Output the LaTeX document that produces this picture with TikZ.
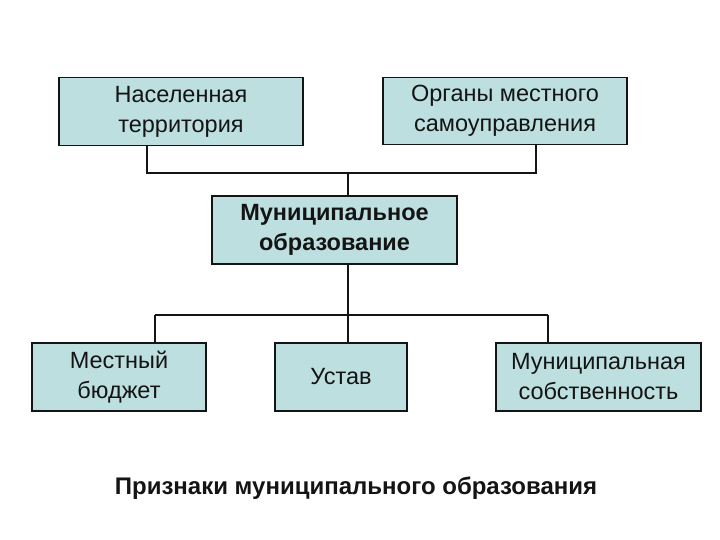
\documentclass[tikz,border=0pt]{standalone}
\usepackage{fontspec}
\setmainfont{Liberation Sans}
\definecolor{boxfill}{RGB}{189,223,224}
\definecolor{ink}{RGB}{20,20,20}
\begin{document}
\begin{tikzpicture}[x=1pt,y=-1pt,
  box/.style={draw=ink,fill=boxfill,line width=1.2pt,inner sep=0pt,align=center,
    font=\fontsize{23.5}{30}\selectfont,text=ink},
  conn/.style={draw=ink,line width=1.1pt}]
\useasboundingbox (0,0) rectangle (720,540);
\node[box,minimum width=244,minimum height=68] (b1) at (181,111.5) {Населенная\\территория};
\node[box,minimum width=244,minimum height=67] (b2) at (505,111) {Органы местного\\самоуправления};
\node[box,minimum width=245,minimum height=68,font=\bfseries\fontsize{23.5}{30}\selectfont] (b3) at (334.5,230) {Муниципальное\\образование};
\node[box,minimum width=174,minimum height=68] (b4) at (119,377) {Местный\\бюджет};
\node[box,minimum width=132,minimum height=68] (b5) at (341,377) {Устав};
\node[box,minimum width=205,minimum height=68] (b6) at (598.5,377) {Муниципальная\\собственность};
\node[font=\bfseries\fontsize{24}{28}\selectfont,text=ink] (title) at (356,488) {Признаки муниципального образования};
\coordinate (h1) at (147,173);
\coordinate (h2) at (536,173);
\coordinate (hc) at (348,173);
\coordinate (l1) at (155,315);
\coordinate (l2) at (548,315);
\coordinate (lc) at (348,315);
\draw[conn] (b1.south -| h1) |- (h2) -- (b2.south -| h2);
\draw[conn] (hc) -- (b3.north -| hc);
\draw[conn] (b3.south -| lc) -- (lc);
\draw[conn] (l1) -- (l2);
\draw[conn] (l1) -- (b4.north -| l1);
\draw[conn] (lc) -- (b5.north -| lc);
\draw[conn] (l2) -- (b6.north -| l2);
\end{tikzpicture}
\end{document}
